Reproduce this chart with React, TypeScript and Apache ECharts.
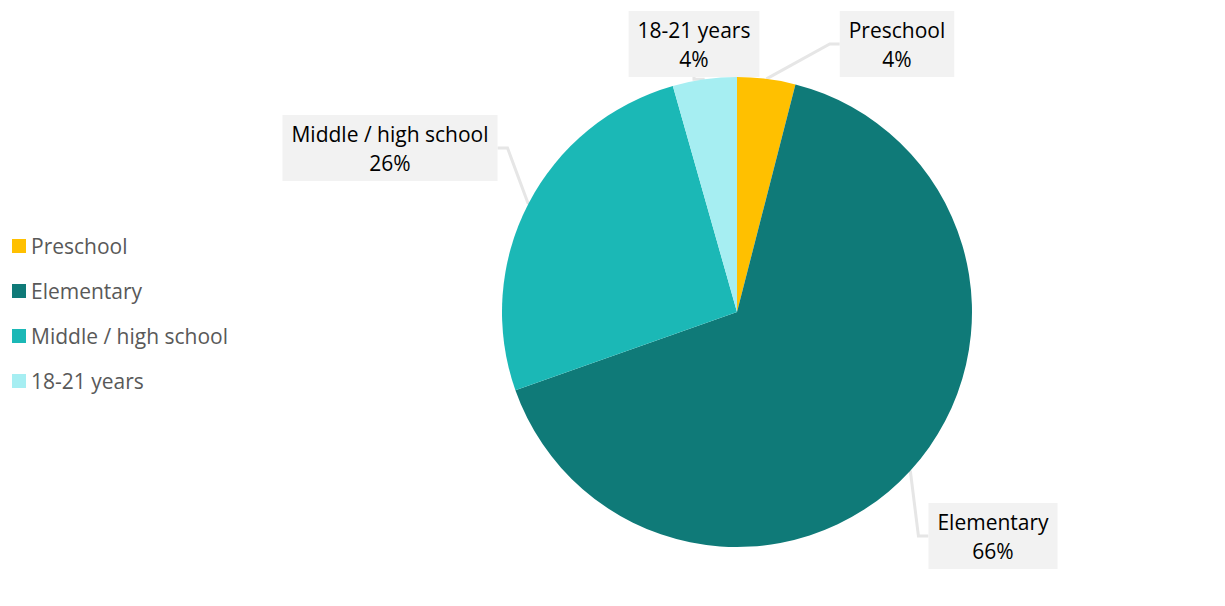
import React, { useEffect, useRef } from "react";
import * as echarts from "echarts";

const categories = ["Preschool", "Elementary", "Middle / high school", "18-21 years"];
const values = [4.0, 65.6, 26.0, 4.4];
const colors = ["#FFC000", "#0F7A78", "#1BB8B6", "#A6EEF2"];
const labelCenters: [number, number][] = [
  [897, 44],
  [993, 536],
  [390, 148],
  [694, 44],
];

export default function App() {
  const ref = useRef<HTMLDivElement>(null);
  useEffect(() => {
    document.body.style.margin = "0";
    const chart = echarts.init(ref.current!, null, { renderer: "svg" });
    const font = "Open Sans, Noto Sans, sans-serif";
    chart.setOption({
      animation: false,
      color: colors,
      legend: {
        orient: "vertical",
        left: 7,
        top: 229,
        itemWidth: 14,
        itemHeight: 14,
        itemGap: 21,
        icon: "rect",
        textStyle: { color: "#595959", fontSize: 21, lineHeight: 24, fontFamily: font },
        data: categories,
      },
      series: [
        {
          type: "pie",
          center: [737, 312],
          radius: 235,
          startAngle: 90,
          clockwise: true,
          percentPrecision: 0,
          data: categories.map((c, i) => ({ name: c, value: values[i] })),
          label: {
            show: true,
            formatter: "{b}\n{d}%",
            color: "#000000",
            fontSize: 21,
            lineHeight: 29,
            fontFamily: font,
            align: "center",
            verticalAlign: "middle",
            backgroundColor: "#F2F2F2",
            padding: [4, 9, 4, 9],
          },
          labelLine: {
            show: true,
            length: 10,
            length2: 10,
            lineStyle: { color: "#E6E6E6", width: 3 },
          },
          labelLayout: (params: any) => {
            const c = labelCenters[params.dataIndex];
            return { x: c[0], y: c[1], align: "center", verticalAlign: "middle" };
          },
          emphasis: { disabled: true },
        },
      ],
    });
    return () => chart.dispose();
  }, []);
  return <div ref={ref} style={{ width: 1225, height: 606 }} />;
}
